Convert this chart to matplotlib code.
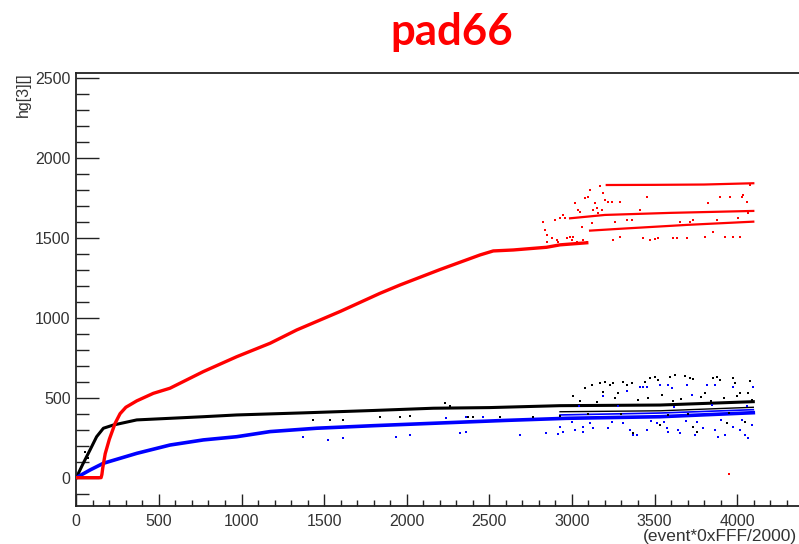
import matplotlib
matplotlib.use("Agg")
import matplotlib.pyplot as plt
from matplotlib.ticker import MultipleLocator, FixedLocator

# ---- data -------------------------------------------------------------
# main trend of each channel (event index, hg value)
red_x = [0, 150, 155, 160, 175, 200, 235, 265, 300, 366, 466, 567, 668, 769, 971,
         1173, 1334, 1600, 1838, 1959, 2200, 2444, 2524, 2645, 2847, 2928, 3090]
red_y = [0, 0, 20, 60, 150, 240, 340, 400, 440, 480, 527, 559, 611, 663, 756,
         840, 923, 1040, 1152, 1204, 1300, 1392, 1417, 1423, 1440, 1455, 1468]

# the three red branches after the gain change
red_top_x = [3211, 3500, 3800, 4098]
red_top_y = [1829, 1830, 1832, 1840]
red_mid_x = [2989, 3200, 3600, 4098]
red_mid_y = [1621, 1642, 1655, 1667]
red_low_x = [3110, 3300, 3700, 4098]
red_low_y = [1544, 1556, 1580, 1600]

black_x = [0, 42, 83, 123, 164, 224, 366, 567, 769, 971, 1374, 1800, 2161, 2500,
           2928, 3534, 4098]
black_y = [0, 90, 173, 256, 309, 329, 361, 371, 381, 392, 405, 420, 434, 438,
           450, 454, 475]
# second, lower black band at late events
black_low_x = [2928, 3534, 4098]
black_low_y = [412, 418, 440]

blue_x = [0, 83, 164, 265, 366, 567, 769, 971, 1173, 1455, 1800, 2161, 2600,
          2968, 3534, 4098]
blue_y = [0, 48, 90, 121, 152, 204, 236, 256, 288, 309, 325, 340, 358,
          371, 381, 406]
# upper edge of the blue band at late events
blue_hi_x = [2928, 3534, 4098]
blue_hi_y = [392, 404, 425]

# scattered entries away from the trends
red_pts_x = [2827, 2837, 2847, 2847, 2877, 2898, 2908, 2918, 2928, 2948, 2958, 2968,
             2989, 2999, 3009, 3019, 3029, 3039, 3049, 3059, 3069, 3079, 3090, 3100,
             3110, 3120, 3130, 3140, 3150, 3160, 3170, 3180, 3190, 3200, 3221, 3241,
             3251, 3261, 3291, 3291, 3332, 3362, 3412, 3432, 3453, 3473, 3503, 3523,
             3614, 3634, 3654, 3674, 3695, 3715, 3735, 3806, 3826, 3856, 3876, 3896,
             3926, 3957, 3977, 4007, 4018, 4028, 4038, 4058, 4068, 4078, 3949]
red_pts_y = [1600, 1548, 1517, 1475, 1496, 1611, 1486, 1475, 1621, 1642, 1621, 1496,
             1507, 1486, 1507, 1719, 1475, 1673, 1663, 1569, 1486, 1746, 1475, 1756,
             1798, 1590, 1673, 1715, 1683, 1652, 1823, 1673, 1777, 1736, 1725, 1725,
             1486, 1600, 1725, 1507, 1611, 1611, 1673, 1496, 1756, 1486, 1490, 1496,
             1496, 1496, 1600, 1579, 1496, 1600, 1611, 1507, 1719, 1538, 1611, 1756,
             1507, 1756, 1507, 1621, 1507, 1756, 1767, 1725, 1652, 1829, 21]

black_pts_x = [53, 73, 1435, 1535, 1616, 1837, 1958, 2018, 2232, 2262, 2373, 2403,
               2565, 2767, 2928, 3009, 3079, 3120, 3170, 3190, 3200, 3231, 3251,
               3281, 3311, 3332, 3362, 3442, 3473, 3503, 3523, 3544, 3594, 3624,
               3685, 3715, 3735, 3806, 3856, 3876, 3896, 3977, 3987, 4018, 4068,
               4078, 3352, 3372, 3533, 3574, 3735, 3755, 3936, 4048,
               3050, 3150, 3260, 3400, 3460, 3610, 3660, 3780, 3840, 3920, 4000,
               4090, 3100, 3300, 3580, 3700, 3950]
black_pts_y = [163, 121, 361, 361, 361, 377, 381, 386, 469, 448, 377, 377,
               381, 377, 386, 511, 558, 580, 590, 538, 600, 580, 590,
               532, 600, 580, 590, 600, 621, 631, 611, 517, 631, 642,
               636, 621, 615, 527, 621, 631, 611, 621, 590, 527, 532,
               607, 298, 277, 329, 308, 319, 287, 340, 350,
               480, 470, 495, 485, 500, 478, 490, 505, 482, 498, 510,
               488, 395, 400, 392, 398, 405]

blue_pts_x = [1374, 1526, 1616, 1938, 2018, 2320, 2361, 2683, 2844, 2914, 2240,
              2361, 2462, 2928, 2948, 3019, 3069, 3069, 3130, 3221, 3352, 3372,
              3392, 3453, 3513, 3574, 3584, 3644, 3654, 3745, 3796, 3866, 3886,
              3926, 3977, 4018, 4048, 4068, 4088, 3190, 3332, 3412, 3433, 3453,
              3533, 3584, 3604, 3695, 3725, 3816, 3866, 3977, 4098,
              3000, 3110, 3240, 3310, 3480, 3560, 3690, 3760, 3900, 4030,
              3040, 3280, 3620, 3850, 4060]
blue_pts_y = [252, 236, 246, 252, 267, 282, 288, 267, 277, 273, 371,
              381, 381, 319, 287, 298, 319, 287, 308, 308, 298, 267,
              267, 298, 340, 308, 287, 298, 277, 267, 308, 298, 256,
              267, 319, 298, 267, 246, 329, 511, 544, 569, 569, 569,
              580, 580, 558, 580, 517, 580, 580, 569, 569,
              345, 340, 350, 342, 355, 348, 352, 346, 358, 360,
              445, 450, 440, 455, 448]

x_tick_values = [0, 500, 1000, 1500, 2000, 2500, 3000, 3500, 4000]

# ---- figure -----------------------------------------------------------
W, H = 799, 544
fig = plt.figure(figsize=(W / 100, H / 100), dpi=100)
fig.patch.set_facecolor("white")

x0, x1 = 0, 4500
y0, y1 = -177, 2529
ax = fig.add_axes([76.3 / W, (H - 506) / H, 0.1652 * (x1 - x0) / W, (506 - 73) / H])
ax.set_xlim(x0, x1)
ax.set_ylim(y0, y1)

RED, BLUE, BLACK = "#ff0000", "#0000ff", "#000000"

ax.plot(red_x, red_y, color=RED, lw=2.4, solid_joinstyle="round", zorder=3)
for bx, by in ((red_top_x, red_top_y), (red_mid_x, red_mid_y), (red_low_x, red_low_y)):
    ax.plot(bx, by, color=RED, lw=1.6, zorder=3)
ax.plot(black_x, black_y, color=BLACK, lw=2.2, zorder=2)
ax.plot(black_low_x, black_low_y, color=BLACK, lw=1.0, zorder=2)
ax.plot(blue_x, blue_y, color=BLUE, lw=2.6, zorder=2)
ax.plot(blue_hi_x, blue_hi_y, color=BLUE, lw=1.2, zorder=2)

ax.scatter(red_pts_x, red_pts_y, s=3.5, c=RED, marker="s", lw=0, zorder=3)
ax.scatter(black_pts_x, black_pts_y, s=3.5, c=BLACK, marker="s", lw=0, zorder=2)
ax.scatter(blue_pts_x, blue_pts_y, s=3.5, c=BLUE, marker="s", lw=0, zorder=2)

# ROOT-like frame: ticks inside, no right/top ticks
for side in ("left", "bottom", "top"):
    ax.spines[side].set_linewidth(1.3)
    ax.spines[side].set_color("#222222")
ax.spines["right"].set_visible(False)

ax.xaxis.set_major_locator(FixedLocator(x_tick_values))
ax.xaxis.set_minor_locator(MultipleLocator(100))
ax.yaxis.set_major_locator(MultipleLocator(500))
ax.yaxis.set_minor_locator(MultipleLocator(100))
ax.tick_params(axis="x", which="major", direction="in", length=8.6, width=1.0,
               pad=6, labelsize=11.5, labelcolor="#333333", color="#222222")
ax.tick_params(axis="x", which="minor", direction="in", length=4.3, width=1.0,
               color="#222222")
ax.tick_params(axis="y", which="major", direction="in", length=16.3, width=1.0,
               pad=4, labelsize=11.5, labelcolor="#333333", color="#222222")
ax.tick_params(axis="y", which="minor", direction="in", length=9.1, width=1.0,
               color="#222222")
for lab in ax.get_xticklabels() + ax.get_yticklabels():
    lab.set_fontfamily("Liberation Sans")

fig.text(23 / W, 1 - 72 / H, "hg[3][]", rotation=90, ha="center", va="top",
         fontsize=11.5, family="Liberation Sans", color="#333333")
fig.text(797 / W, 1 - 536 / H, "(event*0xFFF/2000)", ha="right", va="center",
         fontsize=12.5, family="Liberation Sans", color="#333333")
fig.text(452 / W, 1 - 45 / H, "pad66", ha="center", va="baseline",
         fontsize=31.5, family="Lato", fontweight="bold", color=RED)

fig.savefig("out.png", dpi=100)
